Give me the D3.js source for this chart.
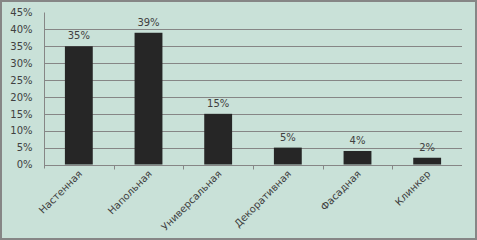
<!DOCTYPE html>
<html><head><meta charset="utf-8">
<script src="https://cdn.jsdelivr.net/npm/d3@7"></script>
<style>body{margin:0;background:#fff}svg{display:block}</style>
</head><body>
<svg id="c" width="477" height="240"></svg>
<script>
const categories = ["Настенная","Напольная","Универсальная","Декоративная","Фасадная","Клинкер"];
const values = [35, 39, 15, 5, 4, 2];
const yTicks = [0,5,10,15,20,25,30,35,40,45];

const svg = d3.select("#c");
const W = 477, H = 240;
const m = {l:44, r:15, t:12.5, b:75.5};
svg.append("rect").attr("x",1).attr("y",1).attr("width",W-2).attr("height",H-2)
  .attr("fill","#c9e1d8").attr("stroke","#868686").attr("stroke-width",2);

const x = d3.scaleBand().domain(categories).range([m.l, W-m.r]).paddingInner(0.6).paddingOuter(0.3);
const xb = d3.scaleBand().domain(categories).range([m.l, W-m.r]);
const y = d3.scaleLinear().domain([0,45]).range([H-m.b, m.t]);

const font = "DejaVu Sans, sans-serif";
// gridlines
svg.append("g").selectAll("line").data(yTicks.filter(d=>d>0 && d<45)).join("line")
  .attr("x1",m.l).attr("x2",W-m.r).attr("y1",d=>Math.round(y(d))+0.5).attr("y2",d=>Math.round(y(d))+0.5)
  .attr("stroke","#868686").attr("stroke-width",1);

// y axis
const ya = svg.append("g").attr("transform",`translate(${m.l+0.5},0)`)
  .call(d3.axisLeft(y).tickValues(yTicks).tickFormat(d=>d+"%").tickSize(0).tickPadding(12));
ya.select(".domain").attr("stroke","#868686").attr("d",`M0,${m.t}V${H-m.b+4}`);
ya.selectAll("text").attr("font-family",font).attr("font-size",10).attr("fill","#404040");

// bars
svg.append("g").selectAll("rect").data(values).join("rect")
  .attr("x",(d,i)=>x(categories[i])).attr("width",x.bandwidth())
  .attr("y",d=>y(d)).attr("height",d=>y(0)-y(d)).attr("fill","#262626");

// x axis
const xa = svg.append("g").attr("transform",`translate(0,${Math.round(y(0))+0.5})`);
xa.append("line").attr("x1",m.l).attr("x2",W-m.r).attr("stroke","#868686");
xa.selectAll(".tk").data(categories.slice(1)).join("line").attr("class","tk")
  .attr("x1",d=>Math.round(xb(d))+0.5).attr("x2",d=>Math.round(xb(d))+0.5).attr("y1",0).attr("y2",4)
  .attr("stroke","#868686");
xa.selectAll("text").data(categories).join("text")
  .attr("transform",d=>`translate(${xb(d)+xb.bandwidth()/2+4},${9}) rotate(-45)`)
  .attr("text-anchor","end").attr("font-family",font).attr("font-size",10).attr("fill","#404040")
  .text(d=>d);

// value labels
svg.append("g").selectAll("text").data(values).join("text")
  .attr("x",(d,i)=>x(categories[i])+x.bandwidth()/2).attr("y",d=>y(d)-7)
  .attr("text-anchor","middle").attr("font-family",font).attr("font-size",10).attr("fill","#404040")
  .text(d=>d+"%");
</script>
</body></html>
